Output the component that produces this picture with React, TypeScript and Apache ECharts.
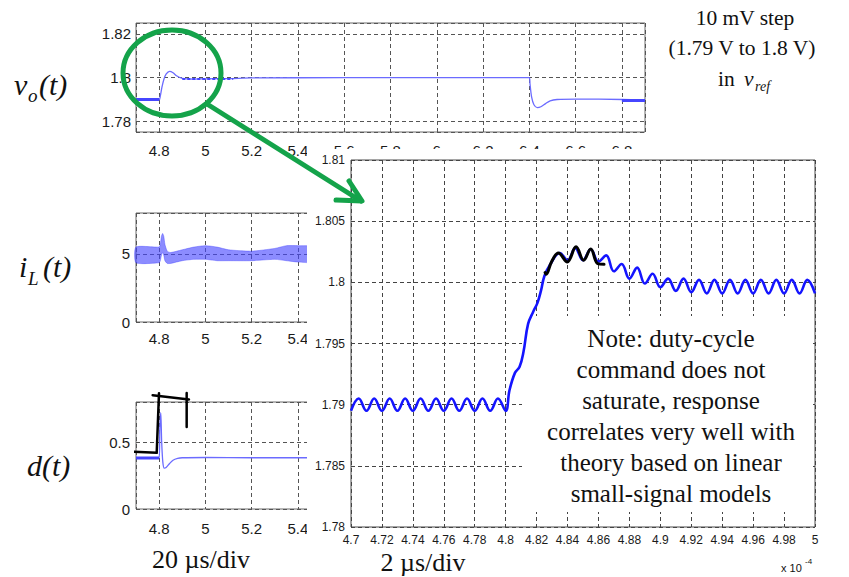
import React, { useEffect, useRef } from 'react';
import * as echarts from 'echarts';

// ---------- data (time in units of 1e-4 s) ----------
// v_o(t), 20 us/div panel
const voTime = [4.7, 4.8, 4.805, 4.812, 4.82, 4.83, 4.845, 4.86, 4.875, 4.9, 4.95, 5.0, 5.1, 5.2, 5.6, 6.0, 6.4, 6.403, 6.41, 6.42, 6.435, 6.45, 6.47, 6.49, 6.52, 6.6, 6.8, 6.9];
const voVolt = [1.7899, 1.7899, 1.7915, 1.7955, 1.799, 1.8015, 1.8028, 1.8022, 1.8008, 1.7996, 1.7993, 1.7994, 1.7995, 1.7998, 1.7999, 1.7999, 1.7999, 1.797, 1.791, 1.7875, 1.7862, 1.7866, 1.788, 1.7893, 1.7899, 1.7901, 1.7899, 1.7895];
// segments where the switching ripple shows as a thick band
const voRippleStart = [4.7, 4.9, 6.8];
const voRippleEnd = [4.8, 5.12, 6.9];
const voRippleLevel = [1.7899, 1.7993, 1.7895];

// i_L(t) ripple band
const iLTime = [4.7, 4.8, 4.805, 4.81, 4.815, 4.82, 4.825, 4.835, 4.85, 4.9, 4.95, 5.0, 5.05, 5.1, 5.2, 5.3, 5.35, 5.4, 5.5];
const iLHigh = [5.5, 5.5, 5.7, 6.3, 6.5, 6.3, 5.7, 5.2, 5.1, 5.3, 5.5, 5.6, 5.5, 5.3, 5.2, 5.4, 5.6, 5.6, 5.5];
const iLLow = [4.35, 4.35, 4.5, 4.9, 5.1, 4.9, 4.5, 4.3, 4.3, 4.5, 4.6, 4.6, 4.5, 4.5, 4.5, 4.6, 4.5, 4.4, 4.4];

// d(t)
const dTime = [4.7, 4.8, 4.803, 4.807, 4.811, 4.816, 4.822, 4.83, 4.845, 4.86, 4.88, 4.9, 5.0, 5.2, 5.5];
const dDuty = [0.382, 0.382, 0.6, 0.72, 0.5, 0.35, 0.305, 0.31, 0.34, 0.365, 0.378, 0.383, 0.385, 0.383, 0.383];
const dRippleTime = [4.7, 4.8];
const dRippleDuty = [0.382, 0.382];
// hand-drawn black sketch on d(t)
const sketchATime = [4.688, 4.7895, 4.7994];
const sketchADuty = [0.428, 0.42, 0.866];
const sketchBTime = [4.772, 4.929];
const sketchBDuty = [0.851, 0.819];
const sketchCTime = [4.919, 4.919];
const sketchCDuty = [0.868, 0.614];

// zoomed v_o(t), 2 us/div panel
const zoomTime = [
  4.700, 4.705, 4.710, 4.715, 4.720, 4.725, 4.730, 4.735, 4.740, 4.745, 4.750,
  4.755, 4.760, 4.765, 4.770, 4.775, 4.780, 4.785, 4.790, 4.795, 4.800,
  4.8025, 4.806, 4.809, 4.8115, 4.8145, 4.8178, 4.8205, 4.8228, 4.825, 4.8285,
  4.835, 4.840, 4.845, 4.850, 4.855, 4.860, 4.865, 4.870, 4.875, 4.880,
  4.885, 4.890, 4.895, 4.900, 4.905, 4.910, 4.915, 4.920, 4.925, 4.930,
  4.935, 4.940, 4.945, 4.950, 4.955, 4.960, 4.965, 4.970, 4.975, 4.980,
  4.985, 4.990, 4.995, 5.000
];
const zoomVolt = [
  1.7895, 1.7905, 1.7895, 1.7905, 1.7895, 1.7905, 1.7895, 1.7905, 1.7895, 1.7905, 1.7895,
  1.7905, 1.7895, 1.7905, 1.7895, 1.7905, 1.7895, 1.7905, 1.7895, 1.7905, 1.7895,
  1.7912, 1.7926, 1.7931, 1.7943, 1.7966, 1.7976, 1.7983, 1.7993, 1.8005, 1.8014,
  1.8024, 1.8018, 1.8028, 1.8018, 1.8027, 1.8017, 1.8022, 1.8009, 1.8015, 1.8003,
  1.8012, 1.7999, 1.8007, 1.7996, 1.8003, 1.7993, 1.8003, 1.7992, 1.8002, 1.7991,
  1.8002, 1.7991, 1.8002, 1.7991, 1.8002, 1.7991, 1.8002, 1.7991, 1.8002, 1.7991,
  1.8002, 1.7991, 1.8002, 1.7991
];
// black hand-drawn trace over the overshoot
const inkTime = [4.8255, 4.8262, 4.8296, 4.8341, 4.8398, 4.8455, 4.8504, 4.855, 4.8595, 4.8636];
const inkVolt = [1.8008, 1.80066, 1.80167, 1.8024, 1.80167, 1.8029, 1.8018, 1.80273, 1.80153, 1.80148];

const noteLines = [
  'Note: duty-cycle',
  'command does not',
  'saturate, response',
  'correlates very well with',
  'theory based on linear',
  'small-signal models',
];

// ---------- styling ----------
const SANS = '"Liberation Sans", Arial, Helvetica, sans-serif';
const SERIF = '"Liberation Serif", "Times New Roman", serif';
const GREEN = '#14a34a';
const smallLabel = { fontFamily: SANS, fontSize: 15, color: '#1a1a1a' };
const bigLabel = { fontFamily: SANS, fontSize: 12, color: '#1a1a1a' };
const gridDash = { type: [4, 3] as any, color: '#555', width: 1 };
const pairs = (xs: number[], ys: number[]) => xs.map((x, i) => [x, ys[i]]);
const isMult = (v: number, step: number) => Math.abs(v / step - Math.round(v / step)) < 1e-6;

// labelMax: the small panels under the zoom window only show their labels up to this value
function smallX(gridIndex: number, margin: number, labelMax: number) {
  return {
    gridIndex, type: 'value', min: 4.7, max: 6.9, minInterval: 0.2, maxInterval: 0.2, splitNumber: 11,
    axisLine: { show: false }, axisTick: { show: false },
    axisLabel: {
      ...smallLabel, margin,
      formatter: (v: number) => (isMult(v, 0.2) && v <= labelMax ? String(+v.toFixed(1)) : ''),
    },
    splitLine: { show: true, lineStyle: gridDash },
  };
}

function buildOption() {
  const series: any[] = [];
  // v_o small
  series.push({ type: 'line', xAxisIndex: 0, yAxisIndex: 0, data: pairs(voTime, voVolt), symbol: 'none', smooth: 0.3,
    lineStyle: { color: '#6b6bff', width: 1.3 }, z: 2 });
  voRippleStart.forEach((s, i) => {
    series.push({ type: 'line', xAxisIndex: 0, yAxisIndex: 0, data: [[s, voRippleLevel[i]], [voRippleEnd[i], voRippleLevel[i]]],
      symbol: 'none', lineStyle: { color: '#4646ff', width: i === 1 ? 2 : 3, type: i === 1 ? [3, 2] : 'solid' }, z: 2 });
  });
  // i_L band
  series.push({
    type: 'custom', xAxisIndex: 1, yAxisIndex: 1, data: [[4.7, 5]], z: 2,
    renderItem: (_p: any, api: any) => {
      const pts: number[][] = [];
      iLTime.forEach((t, i) => pts.push(api.coord([t, iLHigh[i]])));
      for (let i = iLTime.length - 1; i >= 0; i--) pts.push(api.coord([iLTime[i], iLLow[i]]));
      return { type: 'polygon', shape: { points: pts, smooth: 0.2 }, style: { fill: 'rgba(70,70,255,0.62)', stroke: 'rgba(60,60,255,0.5)', lineWidth: 0.8 } };
    },
  });
  // d small
  series.push({ type: 'line', xAxisIndex: 2, yAxisIndex: 2, data: pairs(dTime, dDuty), symbol: 'none', smooth: 0.3,
    lineStyle: { color: '#6b6bff', width: 1.3 }, z: 2 });
  series.push({ type: 'line', xAxisIndex: 2, yAxisIndex: 2, data: pairs(dRippleTime, dRippleDuty), symbol: 'none',
    lineStyle: { color: '#4646ff', width: 3 }, z: 2 });
  [[sketchATime, sketchADuty], [sketchBTime, sketchBDuty], [sketchCTime, sketchCDuty]].forEach(([t, d]) => {
    series.push({ type: 'line', xAxisIndex: 2, yAxisIndex: 2, data: pairs(t, d), symbol: 'none', clip: false,
      lineStyle: { color: '#000', width: 2.5, cap: 'round', join: 'round' }, z: 3 });
  });
  // big zoomed trace
  series.push({ type: 'line', xAxisIndex: 3, yAxisIndex: 3, data: pairs(zoomTime, zoomVolt), symbol: 'none', smooth: 0.4,
    lineStyle: { color: '#1414ff', width: 2.6 }, z: 7 });
  series.push({ type: 'line', xAxisIndex: 3, yAxisIndex: 3, data: pairs(inkTime, inkVolt), symbol: 'none', smooth: 0.4,
    lineStyle: { color: '#000', width: 3, cap: 'round', join: 'round' }, z: 8 });

  const txt = (text: string, x: number, y: number, size: number, extra: any = {}) => ({
    type: 'text', x, y, z: 12,
    style: { text, fontFamily: SERIF, fontSize: size, fill: '#111', textAlign: 'left', textVerticalAlign: 'middle', ...extra },
  });

  const graphics: any[] = [
    { type: 'rect', shape: { x: 307, y: 149, width: 542, height: 428 }, style: { fill: '#fff' }, z: 4 },
    { type: 'rect', shape: { x: 522, y: 316, width: 290, height: 196 }, style: { fill: '#fff' }, z: 6 },
    ...noteLines.map((l, i) => txt(l, 671, 338 + i * 31.1, 25, { textAlign: 'center' })),
    // top right
    txt('10 mV step', 745, 18, 21.5, { textAlign: 'center' }),
    txt('(1.79 V to 1.8 V)', 742, 48, 21.5, { textAlign: 'center' }),
    txt('in', 718, 79, 21.5),
    txt('v', 744, 79, 21.5, { fontStyle: 'italic' }),
    txt('ref', 755, 86, 14, { fontStyle: 'italic' }),
    // left labels
    txt('v', 14, 84, 30, { fontStyle: 'italic' }),
    txt('o', 28, 95, 19, { fontStyle: 'italic' }),
    txt('(t)', 39, 84, 30, { fontStyle: 'italic' }),
    txt('i', 19, 266, 30, { fontStyle: 'italic' }),
    txt('L', 28, 278, 19, { fontStyle: 'italic' }),
    txt('(t)', 43, 266, 30, { fontStyle: 'italic' }),
    txt('d(t)', 27, 465, 30, { fontStyle: 'italic' }),
    // bottom labels
    txt('20 \u00b5s/div', 201, 559, 26, { textAlign: 'center' }),
    txt('2 \u00b5s/div', 423, 562, 26, { textAlign: 'center' }),
    txt('x 10', 781, 568, 11, { fontFamily: SANS }),
    txt('-4', 805, 561, 8, { fontFamily: SANS }),
    // green magnifier annotation
    { type: 'ellipse', shape: { cx: 172, cy: 73, rx: 49, ry: 43 }, style: { fill: 'none', stroke: GREEN, lineWidth: 5 }, z: 20 },
    { type: 'line', shape: { x1: 207, y1: 104, x2: 361, y2: 201 }, style: { stroke: GREEN, lineWidth: 5, lineCap: 'round' }, z: 20 },
    { type: 'polyline', shape: { points: [[349, 181], [362, 201], [336, 200]] }, style: { fill: 'none', stroke: GREEN, lineWidth: 5, lineCap: 'round', lineJoin: 'round' }, z: 20 },
  ];

  return {
    animation: false,
    backgroundColor: '#fff',
    grid: [
      { left: 136, top: 23, width: 509, height: 109, show: true, borderColor: '#6a6a6a', borderWidth: 1, backgroundColor: 'transparent' },
      { left: 136, top: 213, width: 509, height: 109, show: true, borderColor: '#6a6a6a', borderWidth: 1, backgroundColor: 'transparent' },
      { left: 136, top: 402, width: 509, height: 107, show: true, borderColor: '#6a6a6a', borderWidth: 1, backgroundColor: 'transparent' },
      { left: 351, top: 160, width: 464, height: 367, show: true, borderColor: '#4a4a4a', borderWidth: 1, backgroundColor: 'transparent', z: 5 },
    ],
    xAxis: [
      smallX(0, 11, 7),
      smallX(1, 9, 5.45),
      smallX(2, 12, 5.45),
      {
        gridIndex: 3, type: 'value', min: 4.7, max: 5.0, interval: 0.02, z: 5,
        axisLine: { show: false }, axisTick: { show: false },
        axisLabel: { ...bigLabel, margin: 7, hideOverlap: false },
        splitLine: { show: true, lineStyle: { ...gridDash, color: '#444' } },
      },
    ],
    yAxis: [
      {
        gridIndex: 0, type: 'value', min: 1.775, max: 1.825, minInterval: 0.02, maxInterval: 0.02, splitNumber: 3,
        axisLine: { show: false }, axisTick: { show: false },
        axisLabel: { ...smallLabel, margin: 5, formatter: (v: number) => (isMult(v, 0.02) ? String(+v.toFixed(2)) : '') },
        splitLine: { show: true, lineStyle: gridDash },
      },
      {
        gridIndex: 1, type: 'value', min: 0, max: 8, interval: 5,
        axisLine: { show: false }, axisTick: { show: false },
        axisLabel: { ...smallLabel, margin: 6, formatter: (v: number) => (isMult(v, 5) ? String(v) : '') },
        splitLine: { show: true, lineStyle: gridDash },
      },
      {
        gridIndex: 2, type: 'value', min: 0, max: 0.8, interval: 0.5,
        axisLine: { show: false }, axisTick: { show: false },
        axisLabel: { ...smallLabel, margin: 6, formatter: (v: number) => (isMult(v, 0.5) ? String(v) : '') },
        splitLine: { show: true, lineStyle: gridDash },
      },
      {
        gridIndex: 3, type: 'value', min: 1.78, max: 1.81, interval: 0.005, z: 5,
        axisLine: { show: false }, axisTick: { show: false },
        axisLabel: { ...bigLabel, margin: 6 },
        splitLine: { show: true, lineStyle: { ...gridDash, color: '#444' } },
      },
    ],
    series,
    graphic: { elements: graphics },
  };
}

export default function App() {
  const ref = useRef<HTMLDivElement>(null);
  useEffect(() => {
    if (!ref.current) return;
    const chart = echarts.init(ref.current, null, { renderer: 'svg', width: 849, height: 577 });
    chart.setOption(buildOption() as any);
    return () => chart.dispose();
  }, []);
  return (
    <div
      ref={ref}
      style={{ position: 'absolute', left: 0, top: 0, width: 849, height: 577, background: '#fff' }}
    />
  );
}
